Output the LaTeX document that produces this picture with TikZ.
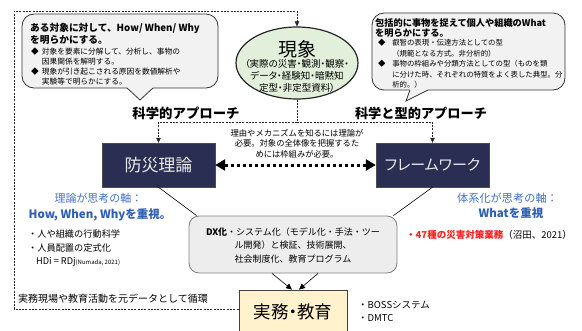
\documentclass[tikz,border=0pt]{standalone}
\usepackage{fontspec}
\setmainfont{Noto Sans CJK JP}
\usetikzlibrary{arrows.meta,shapes.geometric}
\definecolor{calloutgray}{HTML}{F2F2F2}
\definecolor{genfill}{HTML}{E2EFDA}
\definecolor{navy}{HTML}{2A2E52}
\definecolor{bluetxt}{HTML}{4472C4}
\definecolor{bluebold}{HTML}{2F5FB3}
\definecolor{redtxt}{HTML}{FF2020}
\definecolor{grayfill}{HTML}{EDEDED}
\definecolor{grayline}{HTML}{7F7F7F}
\definecolor{jfill}{HTML}{FFF2CC}
\newcommand{\prop}{\addfontfeatures{RawFeature=+palt}}
\begin{document}
\begin{tikzpicture}[x=1pt,y=-1pt,
  fs/.style 2 args={font=\fontsize{#1}{#2}\selectfont},
  lbl/.style={inner sep=0pt, align=left, anchor=west},
  ctr/.style={inner sep=0pt, align=center},
  dashline/.style={draw=black!85, line width=0.6pt, dash pattern=on 2pt off 1.3pt},
  tip/.style={-{Triangle[length=5pt,width=4.5pt]}},
  callout/.style={draw=black!80, fill=calloutgray, line width=0.8pt},
  darkbox/.style={draw=black!70, fill=navy, text=white!92!black, minimum width=113pt, minimum height=44pt, inner sep=0pt},
  thinline/.style={draw=black, line width=0.6pt},
  convarrow/.style={draw=black, line width=0.6pt, -{Triangle[length=6pt,width=5.5pt]}},
]
\useasboundingbox (0,0) rectangle (582,330);

% left callout
\draw[callout, rounded corners=12pt] (22,14) rectangle (218,88);
\fill[calloutgray] (127,86.5) -- (153,86.5) -- (153,88) -- (140,100) -- (127,88) -- cycle;
\draw[black!80, line width=0.8pt] (127,88) -- (140,100) -- (153,88);
\node[lbl, font=\fontsize{9.7}{12}\selectfont\bfseries] (lt1) at (30,34) {ある対象に対して、How/ When/ Why\\を明らかにする。};
\node[lbl, fs={7.7}{9.7}] (lt2) at (31,66.5) {\makebox[1.4em][l]{◆}対象を要素に分解して、分析し、事物の\\\hspace*{1.4em}因果関係を解明する。\\\makebox[1.4em][l]{◆}現象が引き起こされる原因を数値解析や\\\hspace*{1.4em}実験等で明らかにする。};

% right callout
\draw[callout, rounded corners=12pt] (372,13) rectangle (565,90);
\fill[calloutgray] (410,88.5) -- (428,88.5) -- (428,90) -- (406,101) -- (410,90) -- cycle;
\draw[black!80, line width=0.8pt] (410,90) -- (406,101) -- (428,90);
\node[lbl, font=\fontsize{9.2}{10.5}\selectfont\bfseries] (rt1) at (375,28) {包括的に事物を捉えて個人や組織のWhat\\を明らかにする。};
\node[lbl, fs={7.4}{10.5}] (rt2) at (378,64) {\makebox[1.9em][l]{◆}叡智の表現・伝達方法としての型\\\hspace*{1.9em}（規範となる方式。非分析的）\\\makebox[1.9em][l]{◆}事物の枠組みや分類方法としての型（ものを類\\\hspace*{1.9em}に分けた時、それぞれの特質をよく表した典型。分\\\hspace*{1.9em}析的。）};

% phenomenon ellipse
\node[ellipse, draw=black!85, line width=1.2pt, fill=genfill, minimum width=122pt, minimum height=72pt, inner sep=0pt] (gen) at (297,63) {};
\node[ctr, fs={19}{22}] (gentitle) at (297,49) {現象};
\node[ctr, font=\fontsize{9.5}{12}\selectfont\prop] (gensub) at (297,76) {（実際の災害・観測・観察・\\データ・経験知・暗黙知\\定型・非定型資料）};

% approach labels
\node[ctr, font=\fontsize{13.4}{16}\selectfont\bfseries] (appL) at (186,113) {科学的アプローチ};
\node[ctr, font=\fontsize{13.2}{16}\selectfont\bfseries] (appR) at (421,113) {科学と型的アプローチ};

% dark boxes
\node[darkbox, font=\fontsize{17}{20}\selectfont] (bousai) at (158.5,165) {防災理論};
\node[darkbox, font=\fontsize{15}{18}\selectfont\prop] (frame) at (432.5,165) {フレームワーク};

% dashed connectors from phenomenon
\coordinate (junc) at (297,122);
\draw[dashline] (gen.south) -- (junc);
\draw[dashline, tip] (junc) -| (bousai.north);
\draw[dashline, tip] (junc) -| (frame.north);

% explanation text
\node[ctr, fs={8.3}{10.5}] (expl) at (297,143.5) {理由やメカニズムを知るには理論が\\必要。対象の全体像を把握するた\\めには枠組みが必要。};

% dotted double arrow
\draw[line width=3pt, dash pattern=on 3pt off 3pt, {Triangle[length=10pt,width=11pt]}-{Triangle[length=10pt,width=11pt]}] (bousai.east) -- (frame.west);

% blue texts
\node[ctr, fs={11}{13}, text=bluetxt] (blL1) at (98.5,198) {理論が思考の軸：};
\node[ctr, font=\fontsize{11.5}{13}\selectfont\bfseries, text=bluebold] (blL2) at (100,215) {How, When, Whyを重視。};
\node[ctr, fs={11.2}{13}, text=bluetxt] (blR1) at (507.5,198) {体系化が思考の軸：};
\node[ctr, font=\fontsize{11.5}{13}\selectfont\bfseries, text=bluebold] (blR2) at (511,213) {Whatを重視};

% left list
\node[lbl, fs={9.2}{13.5}] (llist) at (28,248.5) {・人や組織の行動科学\\・人員配置の定式化\\\hspace*{8pt}HDi = RDj{\fontsize{6}{7}\selectfont(Numada, 2021)}};

% red text
\node[lbl, fs={9.5}{12}] (redt) at (406,235) {{\color{redtxt}\bfseries ・47種の災害対策業務}（沼田、2021）};

% loop text
\node[lbl, fs={10}{12}] (loopt) at (18,299) {実務現場や教育活動を元データとして循環};

% gray box
\node[draw=grayline, line width=0.8pt, fill=grayfill, rounded corners=10pt, minimum width=208pt, minimum height=57pt, inner sep=0pt] (gray) at (293,244.5) {};
\node[ctr, fs={9}{13.5}] (graytxt) at (293,245.5) {\textbf{DX化}・システム化（モデル化・手法・ツー\\ル開発）と検証、技術展開、\\社会制度化、教育プログラム};

% practice box
\node[draw=black!75, line width=0.8pt, fill=jfill, minimum width=108pt, minimum height=44pt, inner sep=0pt, font=\fontsize{17.5}{20}\selectfont\prop] (jitsumu) at (293,312) {実務・教育};
\node[lbl, fs={9.5}{13}] (boss) at (358,311.5) {・BOSSシステム\\・DMTC};

% connectors to gray box
\draw[thinline] (bousai.south) -- ([xshift=8pt]gray.north west);
\draw[thinline] (frame.south) -- ([xshift=-4pt]gray.north east);
\draw[convarrow] ([xshift=-21pt]gray.south) -- ([xshift=-1pt]jitsumu.north);
\draw[convarrow] ([xshift=25pt]gray.south) -- ([xshift=6pt]jitsumu.north);

% outer loop
\coordinate (loopA) at (14,309);
\coordinate (loopB) at (14,11);
\draw[dashline, tip] ([yshift=3pt]jitsumu.west) -- (loopA) -- (loopB) -| (gen.north);
\end{tikzpicture}
\end{document}
